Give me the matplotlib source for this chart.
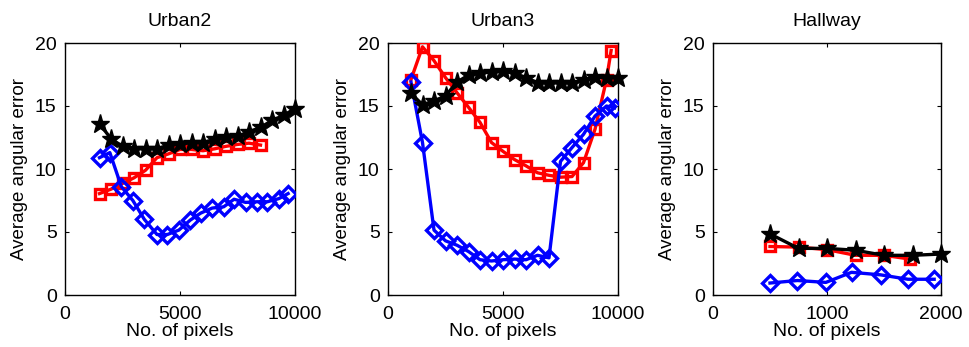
import numpy as np
import matplotlib.pyplot as plt

plt.rcParams['font.family'] = ['Liberation Sans', 'DejaVu Sans']

titles = ["Urban2", "Urban3", "Hallway"]
xlims = [10000, 10000, 2000]
xticks = [[0, 5000, 10000], [0, 5000, 10000], [0, 1000, 2000]]

# Urban2
u2_black_x = [1500, 2000, 2500, 3000, 3500, 4000, 4500, 5000, 5500, 6000,
              6500, 7000, 7500, 8000, 8500, 9000, 9500, 10000]
u2_black_y = [13.6, 12.4, 11.8, 11.6, 11.6, 11.6, 11.9, 12.0, 12.1, 12.1,
              12.35, 12.5, 12.6, 12.95, 13.3, 13.85, 14.25, 14.8]
u2_red_x = [1500, 2000, 2500, 3000, 3500, 4000, 4500, 5000, 5500, 6000,
            6500, 7000, 7500, 8000, 8500]
u2_red_y = [8.05, 8.4, 8.85, 9.3, 9.9, 10.9, 11.2, 11.55, 11.55, 11.45,
            11.6, 11.8, 11.95, 12.05, 11.9]
u2_blue_x = [1500, 1950, 2450, 2950, 3450, 4000, 4450, 4950, 5450, 5900,
             6400, 6900, 7350, 7850, 8350, 8800, 9300, 9700]
u2_blue_y = [10.9, 11.3, 8.6, 7.5, 6.0, 4.8, 4.8, 5.15, 5.95, 6.5,
             6.9, 7.0, 7.6, 7.35, 7.4, 7.4, 7.65, 8.05]

# Urban3
u3_black_x = [1000, 1500, 2000, 2500, 3000, 3500, 4000, 4500, 5000, 5500,
              6000, 6500, 7000, 7500, 8000, 8500, 9000, 9500, 10000]
u3_black_y = [16.0, 15.1, 15.4, 15.8, 16.9, 17.45, 17.6, 17.7, 17.75, 17.6,
              17.25, 16.85, 16.8, 16.85, 16.8, 17.05, 17.3, 17.25, 17.25]
u3_red_x = [1000, 1500, 2000, 2500, 3000, 3500, 4000, 4500, 5000, 5500,
            6000, 6500, 7000, 7500, 8000, 8500, 9000, 9500, 9700]
u3_red_y = [17.1, 19.7, 18.6, 17.25, 16.05, 14.9, 13.7, 12.1, 11.4, 10.75,
            10.25, 9.7, 9.5, 9.35, 9.4, 10.5, 13.15, 17.1, 19.4]
u3_blue_x = [1000, 1500, 2000, 2500, 3000, 3500, 4000, 4500, 5000, 5500,
             6000, 6500, 7000, 7500, 8000, 8500, 9000, 9500, 9850]
u3_blue_y = [16.9, 12.1, 5.15, 4.3, 3.95, 3.45, 2.8, 2.7, 2.8, 2.85,
             2.8, 3.15, 2.95, 10.6, 11.7, 12.75, 14.2, 15.0, 14.85]

# Hallway
hw_black_x = [500, 750, 1000, 1250, 1500, 1750, 2000]
hw_black_y = [4.85, 3.7, 3.7, 3.55, 3.15, 3.15, 3.25]
hw_red_x = [500, 750, 1000, 1250, 1500, 1730]
hw_red_y = [3.85, 3.8, 3.6, 3.15, 3.15, 2.85]
hw_blue_x = [500, 740, 990, 1215, 1470, 1710, 1940]
hw_blue_y = [0.95, 1.15, 1.0, 1.8, 1.6, 1.25, 1.25]

series = [
    [(u2_black_x, u2_black_y), (u2_red_x, u2_red_y), (u2_blue_x, u2_blue_y)],
    [(u3_black_x, u3_black_y), (u3_red_x, u3_red_y), (u3_blue_x, u3_blue_y)],
    [(hw_black_x, hw_black_y), (hw_red_x, hw_red_y), (hw_blue_x, hw_blue_y)],
]

fig = plt.figure(figsize=(9.69, 3.47), dpi=100)
lefts = [65 / 969, 388 / 969, 713 / 969]
widths = [230 / 969, 230 / 969, 228 / 969]
bottom = 52 / 347
height = 252 / 347

for i in range(3):
    ax = fig.add_axes([lefts[i], bottom, widths[i], height])
    (bx, by), (rx, ry), (ux, uy) = series[i]
    ax.plot(rx, ry, color='red', lw=2.4, marker='s', ms=7.5, mfc='none',
            mew=2.4, zorder=3)
    ax.plot(ux, uy, color='blue', lw=2.4, marker='D', ms=8, mfc='none',
            mew=2.4, zorder=3)
    ax.plot(bx, by, color='black', lw=2.4, marker='*', ms=14, zorder=4,
            clip_on=False)
    ax.set_xlim(0, xlims[i])
    ax.set_ylim(0, 20)
    ax.set_xticks(xticks[i])
    ax.set_yticks([0, 5, 10, 15, 20])
    ax.tick_params(direction='in', top=True, right=True, length=3,
                   labelsize=14, pad=6)
    ax.tick_params(axis='x', pad=8)
    ax.set_title(titles[i], fontsize=14, pad=12)
    ax.set_xlabel("No. of pixels", fontsize=14, labelpad=0)
    ax.set_ylabel("Average angular error", fontsize=13.5, labelpad=5)
    for s in ax.spines.values():
        s.set_linewidth(1)

fig.savefig("out.png", dpi=100)
